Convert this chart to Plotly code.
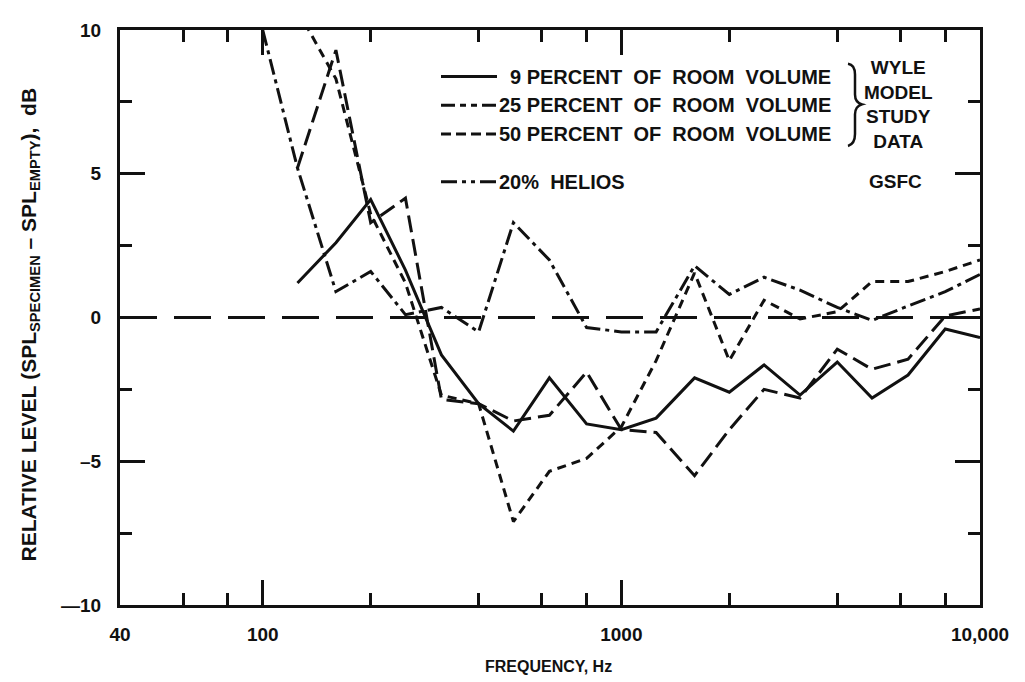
import plotly.graph_objects as go

# ---------------- data ----------------
freq = [100, 125, 160, 200, 250, 315, 400, 500, 630, 800, 1000, 1250,
        1600, 2000, 2500, 3150, 4000, 5000, 6300, 8000, 10000]

freq_9 = freq[1:]
spl_9 = [1.2, 2.6, 4.1, 1.65, -1.3, -3.0, -3.95, -2.1, -3.7, -3.9, -3.5,
         -2.1, -2.6, -1.65, -2.7, -1.55, -2.8, -2.0, -0.4, -0.7]

freq_25 = freq[1:]
spl_25 = [5.2, 9.3, 3.3, 4.15, -2.85, -3.0, -3.6, -3.4, -1.9, -3.9, -4.0,
          -5.5, -3.9, -2.5, -2.8, -1.1, -1.8, -1.45, 0.05, 0.3]

freq_50 = freq[1:]
spl_50 = [10.7, 8.3, 3.6, 1.2, -2.7, -3.0, -7.1, -5.35, -4.9, -3.8, -1.5,
          1.55, -1.5, 0.6, -0.05, 0.2, 1.25, 1.25, 1.6, 2.0]

freq_helios = freq
spl_helios = [10.0, 5.2, 0.9, 1.6, 0.1, 0.35, -0.5, 3.3, 2.0, -0.35, -0.5,
              -0.5, 1.8, 0.8, 1.4, 0.95, 0.35, -0.1, 0.4, 0.9, 1.5]

x_tickvals = [40, 100, 1000, 10000]
x_ticktext = ["40", "100", "1000", "10,000"]
x_minor = [60, 80, 200, 400, 600, 800, 2000, 4000, 6000, 8000]
y_tickvals = [-10, -5, 0, 5, 10]
y_ticktext = ["\u201410", "\u20135", "0", "5", "10"]

# ---------------- styling ----------------
INK = "#111111"
FONT = "Liberation Sans"
# the page body adds an 8px offset, so the figure is 8px smaller
W, H = 1017, 674
L, R, T, B = 112, 45, 17, 77
PX0, PY0 = 120, 25          # plot-area corner on screen
PW, PH = 860, 580

DASH_25 = "17px,7px"
DASH_50 = "9px,6px"
DASH_HEL = "16px,5px,4px,5px"


def px(xs):
    return (xs - PX0) / PW


def py(ys):
    return (PY0 + PH - ys) / PH


fig = go.Figure()

series = [
    (freq_9, spl_9, "solid", "9 percent", "x", "y"),
    (freq_25, spl_25, DASH_25, "25 percent", "x", "y"),
    (freq_50, spl_50, DASH_50, "50 percent", "x", "y"),
    (freq_helios, spl_helios, DASH_HEL, "20% Helios", "x2", "y2"),
]
for xs, ys, dash, name, xa, ya in series:
    fig.add_trace(go.Scatter(x=xs, y=ys, mode="lines", name=name,
                             xaxis=xa, yaxis=ya,
                             line=dict(color=INK, width=3, dash=dash),
                             showlegend=False, hoverinfo="x+y"))

shapes = []
# zero reference line
shapes.append(dict(type="line", xref="paper", yref="y", x0=0, x1=1, y0=0, y1=0,
                   line=dict(color=INK, width=3, dash="37px,17px")))

# legend samples
rows = [(72, "solid"), (101, "14px,5px,6px,5px,6px,5px"), (130, "10px,5px"),
        (178, "16px,5px,4px,5px,4px,5px")]
for yy, dash in rows:
    shapes.append(dict(type="line", xref="paper", yref="paper",
                       x0=px(441), x1=px(497), y0=py(yy), y1=py(yy),
                       line=dict(color=INK, width=3, dash=dash)))

# brace
pts = "M {a},{b} Q {c},{d} {e},{f} L {g},{h} Q {i},{j} {k},{l} Q {m},{n} {o},{p} L {q},{r} Q {s},{t} {u},{v}".format(
    a=px(848), b=py(59), c=px(855), d=py(60), e=px(855), f=py(70),
    g=px(855), h=py(90), i=px(855), j=py(98), k=px(862), l=py(100),
    m=px(855), n=py(102), o=px(855), p=py(110), q=px(855), r=py(130),
    s=px(855), t=py(140), u=px(848), v=py(142))
shapes.append(dict(type="path", xref="paper", yref="paper", path=pts,
                   line=dict(color=INK, width=2.5)))

nb = "\u00a0"
ann = []
lab_font = dict(family=FONT, size=20, color=INK, weight="bold")
words = nb * 2 + "OF" + nb * 2 + "ROOM" + nb * 2 + "VOLUME"
labels = [
    (508, 72, "9" + nb + "PERCENT" + words),
    (497, 101, "25" + nb + "PERCENT" + words),
    (497, 130, "50" + nb + "PERCENT" + words),
    (497, 178, "20%" + nb * 2 + "HELIOS"),
]
for xx, yy, txt in labels:
    ann.append(dict(x=px(xx), y=py(yy), xref="paper", yref="paper", text=txt,
                    showarrow=False, xanchor="left", yanchor="middle", font=lab_font))

ann.append(dict(x=px(898), y=py(100), xref="paper", yref="paper",
                text="WYLE<br>MODEL<br>STUDY<br>DATA", showarrow=False,
                xanchor="center", yanchor="middle", align="center",
                font=dict(family=FONT, size=19, color=INK, weight="bold")))
ann.append(dict(x=px(895), y=py(178), xref="paper", yref="paper", text="GSFC",
                showarrow=False, xanchor="center", yanchor="middle",
                font=dict(family=FONT, size=19, color=INK, weight="bold")))

# axis titles
ann.append(dict(x=px(548), y=py(667), xref="paper", yref="paper",
                text="FREQUENCY, Hz", showarrow=False, xanchor="center", yanchor="middle",
                font=dict(family=FONT, size=16, color=INK, weight="bold")))
ann.append(dict(x=px(30), y=py(322), xref="paper", yref="paper",
                text="RELATIVE" + nb + "LEVEL" + nb + "(SPL<sub>SPECIMEN</sub>" + nb + "\u2013" + nb
                     + "SPL<sub>EMPTY</sub>),  dB",
                textangle=-90, showarrow=False, xanchor="center", yanchor="middle",
                font=dict(family=FONT, size=21, color=INK, weight="bold")))

tickfont = dict(family=FONT, size=19, color=INK, weight="bold")

common_x = dict(type="log", range=[1.60206, 4.0], tickmode="array",
                tickvals=x_tickvals, ticks="inside", ticklen=25, tickwidth=3,
                tickcolor=INK, showline=True, linewidth=3, linecolor=INK,
                showgrid=False, zeroline=False,
                minor=dict(tickmode="array", tickvals=x_minor, ticks="inside",
                           ticklen=12, tickwidth=3, tickcolor=INK, showgrid=False))
common_y = dict(range=[-10, 10], tickmode="array", tickvals=y_tickvals,
                ticks="inside", ticklen=25, tickwidth=3, tickcolor=INK,
                showline=True, linewidth=3, linecolor=INK,
                showgrid=False, zeroline=False,
                minor=dict(tick0=0, dtick=2.5, ticks="inside", ticklen=12,
                           tickwidth=3, tickcolor=INK, showgrid=False))

fig.update_layout(
    width=W, height=H,
    margin=dict(l=L, r=R, t=T, b=B),
    paper_bgcolor="white", plot_bgcolor="white",
    shapes=shapes, annotations=ann,
    xaxis=dict(common_x, ticktext=x_ticktext, tickfont=tickfont,
               ticklabelstandoff=10, side="bottom"),
    yaxis=dict(common_y, ticktext=y_ticktext, tickfont=tickfont,
               ticklabelstandoff=12, side="left"),
    xaxis2=dict(common_x, overlaying="x", matches="x", side="top",
                anchor="y2", showticklabels=False),
    yaxis2=dict(common_y, overlaying="y", matches="y", side="right",
                anchor="x2", showticklabels=False),
)

fig.write_html("out.html")
